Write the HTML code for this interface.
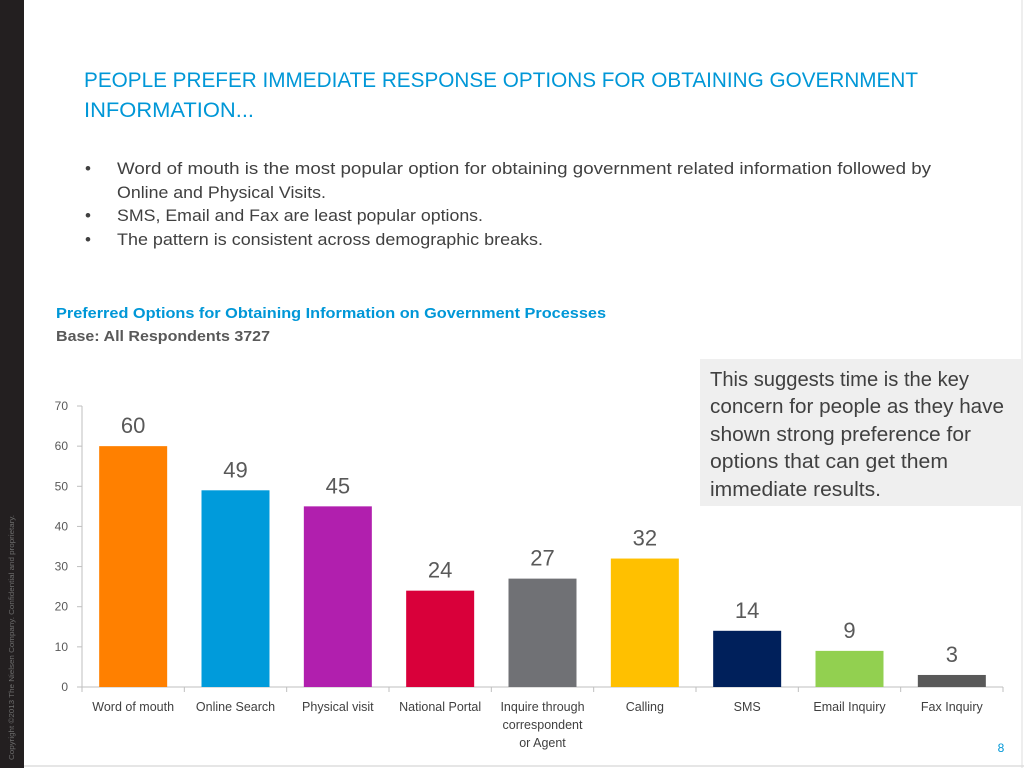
<!DOCTYPE html>
<html><head><meta charset="utf-8"><style>
html,body{margin:0;padding:0;background:#fff;}
svg{display:block;font-family:"Liberation Sans",sans-serif;}
</style></head><body>
<svg id="s" width="1024" height="768" viewBox="0 0 1024 768">
<rect x="0" y="0" width="1024" height="768" fill="#fff"/>
<rect x="0" y="0" width="24" height="768" fill="#231f20"/>
<text transform="translate(14,760) rotate(-90)" font-size="7" fill="#6d6d6d" textLength="245" lengthAdjust="spacingAndGlyphs">Copyright ©2013 The Nielsen Company. Confidential and proprietary.</text>
<line x1="24" y1="766" x2="1024" y2="766" stroke="#ccc" stroke-width="1"/>
<line x1="1022" y1="0" x2="1022" y2="768" stroke="#ddd" stroke-width="1"/>
<text x="84" y="87" font-size="21" fill="#0097d7" textLength="834" lengthAdjust="spacingAndGlyphs">PEOPLE PREFER IMMEDIATE RESPONSE OPTIONS FOR OBTAINING GOVERNMENT</text>
<text x="84" y="117" font-size="21" fill="#0097d7" textLength="170" lengthAdjust="spacingAndGlyphs">INFORMATION...</text>
<g fill="#404040" font-size="17">
<text x="85" y="174">•</text>
<text x="117" y="174" textLength="814" lengthAdjust="spacingAndGlyphs">Word of mouth is the most popular option for obtaining government related information followed by</text>
<text x="117" y="198" textLength="209" lengthAdjust="spacingAndGlyphs">Online and Physical Visits.</text>
<text x="85" y="221">•</text>
<text x="117" y="221" textLength="366" lengthAdjust="spacingAndGlyphs">SMS, Email and Fax are least popular options.</text>
<text x="85" y="245">•</text>
<text x="117" y="245" textLength="426" lengthAdjust="spacingAndGlyphs">The pattern is consistent across demographic breaks.</text>
</g>
<text x="56" y="318" font-size="15" font-weight="bold" fill="#0097d7" textLength="550" lengthAdjust="spacingAndGlyphs">Preferred Options for Obtaining Information on Government Processes</text>
<text x="56" y="341" font-size="15" font-weight="bold" fill="#595959" textLength="214" lengthAdjust="spacingAndGlyphs">Base: All Respondents 3727</text>
<rect x="700" y="359" width="322" height="147" fill="#efefef"/>
<g fill="#404040" font-size="20">
<text x="710" y="386" textLength="259" lengthAdjust="spacingAndGlyphs">This suggests time is the key</text>
<text x="710" y="413" textLength="294" lengthAdjust="spacingAndGlyphs">concern for people as they have</text>
<text x="710" y="441" textLength="261" lengthAdjust="spacingAndGlyphs">shown strong preference for</text>
<text x="710" y="468" textLength="238" lengthAdjust="spacingAndGlyphs">options that can get them</text>
<text x="710" y="496" textLength="171" lengthAdjust="spacingAndGlyphs">immediate results.</text>
</g>
<g id="chart"></g>
<text x="1001" y="752" font-size="12" fill="#0097d7" text-anchor="middle">8</text>
</svg>
<script>
const categories=[["Word of mouth"],["Online Search"],["Physical visit"],["National Portal"],["Inquire through","correspondent","or Agent"],["Calling"],["SMS"],["Email Inquiry"],["Fax Inquiry"]];
const values=[60,49,45,24,27,32,14,9,3];
const colors=["#ff8000","#009bdb","#b11fae","#d9003a","#707175","#ffc000","#00205b","#92d050","#595959"];
const yTicks=[0,10,20,30,40,50,60,70];
const NS="http://www.w3.org/2000/svg";
const g=document.getElementById("chart");
const x0=82,x1=1003,y0=687,y70=406,yMax=70;
const bw=(x1-x0)/categories.length;
function yS(v){return y0-(v/yMax)*(y0-y70);}
function xC(i){return x0+bw*(i+0.5);}
function mk(t,a){const e=document.createElementNS(NS,t);for(const k in a)e.setAttribute(k,a[k]);g.appendChild(e);return e;}
let ax=mk("line",{x1:x0,y1:y70,x2:x0,y2:y0,stroke:"#bfbfbf"});


let bx=mk("line",{x1:x0,y1:y0,x2:x1,y2:y0,stroke:"#bfbfbf"});


yTicks.forEach(v=>{
  mk("line",{x1:x0-5,y1:yS(v),x2:x0,y2:yS(v),stroke:"#bfbfbf"});
  const t=mk("text",{x:x0-14,y:yS(v)+4,"font-size":12,fill:"#595959","text-anchor":"end"});
  t.textContent=v;
  
  
});
for(let i=0;i<=categories.length;i++){mk("line",{x1:x0+bw*i,y1:y0,x2:x0+bw*i,y2:y0+5,stroke:"#bfbfbf"});}
values.forEach((v,i)=>{
  const w=68;
  const r=mk("rect",{x:xC(i)-w/2,y:yS(v),width:w,height:y0-yS(v),fill:colors[i]});
  
  
  const t=mk("text",{x:xC(i),y:yS(v)-13,"font-size":22,fill:"#595959","text-anchor":"middle"});
  t.textContent=v;
  
  
  categories[i].forEach((line,j)=>{
    const c=mk("text",{x:xC(i),y:711+j*18,"font-size":12.5,fill:"#404040","text-anchor":"middle"});
    c.textContent=line;
    
    
  });
});
</script>
</body></html>
